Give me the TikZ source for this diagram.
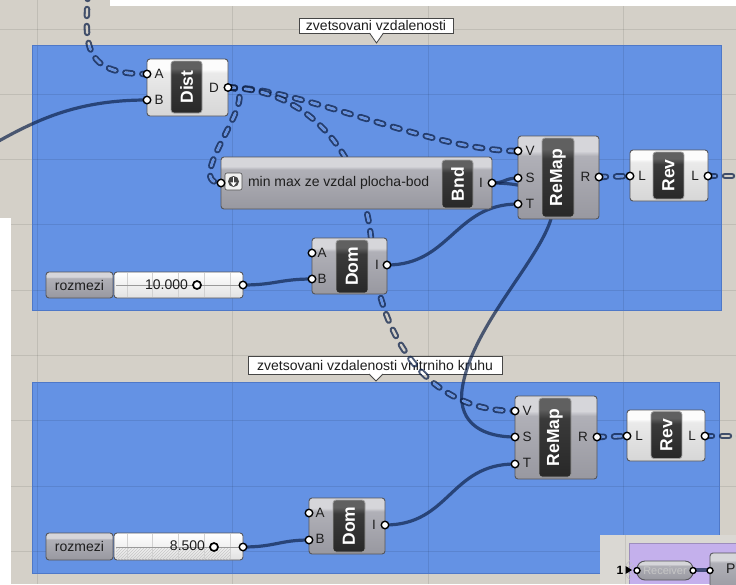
\documentclass[tikz,border=0pt]{standalone}
\usepackage{fontspec}
\setmainfont{Liberation Sans}
\usepackage{graphicx}
\usetikzlibrary{patterns}

\definecolor{canvas}{RGB}{212,208,200}
\definecolor{grpblue}{RGB}{100,146,228}
\definecolor{grpedge}{RGB}{78,120,200}
\definecolor{wirec}{RGB}{15,35,75}
\definecolor{gT}{RGB}{214,214,218}
\definecolor{gM}{RGB}{176,176,183}
\definecolor{gB}{RGB}{152,152,160}
\definecolor{lT}{RGB}{252,252,252}
\definecolor{lM}{RGB}{234,234,234}
\definecolor{lB}{RGB}{214,214,214}
\definecolor{dT}{RGB}{96,96,96}
\definecolor{dM}{RGB}{58,58,58}
\definecolor{dB}{RGB}{40,40,40}
\definecolor{tT}{RGB}{255,255,255}
\definecolor{tB}{RGB}{226,226,226}
\definecolor{compedge}{RGB}{85,85,90}
\definecolor{anndraw}{RGB}{70,70,70}
\definecolor{pastegrey}{RGB}{218,216,211}
\definecolor{grpviolet}{RGB}{196,176,236}
\definecolor{txt}{RGB}{30,30,30}

\pgfdeclareverticalshading{greycomp}{100bp}{color(0bp)=(gB); color(25bp)=(gB); color(63bp)=(gM); color(66bp)=(gT); color(75bp)=(gT); color(100bp)=(gT)}
\pgfdeclareverticalshading{lightcomp}{100bp}{color(0bp)=(lB); color(25bp)=(lB); color(63bp)=(lM); color(66bp)=(lT); color(75bp)=(lT); color(100bp)=(lT)}
\pgfdeclareverticalshading{darkcomp}{100bp}{color(0bp)=(dB); color(25bp)=(dB); color(62bp)=(dM); color(68bp)=(dT); color(75bp)=(dT); color(100bp)=(dT)}
\pgfdeclareverticalshading{trackshade}{100bp}{color(0bp)=(tB); color(25bp)=(tB); color(75bp)=(tT); color(100bp)=(tT)}

\pgfdeclarelayer{bg}
\pgfdeclarelayer{wires}
\pgfdeclarelayer{top}
\pgfsetlayers{bg,wires,main,top}

% dashed (list) wire: dark capsule outline, hollow centre
\newcommand\dwire[1]{%
  \draw[dwout] #1;
  \draw[dwin, draw=canvas] #1;
  \begin{scope}
    \clip (32,45) rectangle (721,310) (32,382) rectangle (719,573);
    \draw[dwin, draw=grpblue] #1;
  \end{scope}
  \begin{scope}
    \clip (248,356) rectangle (502,374);
    \draw[dwin, draw=white] #1;
  \end{scope}}

\begin{document}
\begin{tikzpicture}[x=1pt,y=-1pt,
  every node/.style={inner sep=0pt, outer sep=0pt},
  comp/.style={draw=compedge, line width=0.9pt, rounded corners=3pt, shade, shading=greycomp},
  lcomp/.style={comp, shading=lightcomp},
  dkbox/.style={draw=gray!75, line width=0.8pt, rounded corners=3pt, shade, shading=darkcomp,
    text=white, font=\fontsize{17.5}{17.5}\selectfont\bfseries},
  port/.style={circle, draw=black, fill=white, line width=1.4pt, minimum size=7.5pt},
  plabel/.style={font=\fontsize{13.5}{13.5}\selectfont, text=txt},
  ntext/.style={font=\fontsize{14}{14}\selectfont, text=txt},
  track/.style={draw=compedge, line width=0.9pt, rounded corners=3pt, shade, shading=trackshade},
  tickline/.style={draw=black!18, line width=0.7pt},
  knob/.style={circle, draw=black, line width=1.7pt, fill=white, minimum size=8pt},
  ann/.style={draw=anndraw, fill=white, line width=0.8pt, font=\fontsize{14}{14}\selectfont, text=txt},
  gridline/.style={draw=black, draw opacity=0.09, line width=0.9pt},
  swire/.style={draw=wirec, draw opacity=0.7, line width=3.2pt},
  dwout/.style={draw=wirec, draw opacity=0.75, line width=6.4pt, line cap=round, dash pattern=on 7pt off 10pt},
  dwin/.style={line width=2.3pt, line cap=round, dash pattern=on 7pt off 10pt}
]
\useasboundingbox (0,0) rectangle (736,584);

% ---------------- canvas, groups, grid, notes
\begin{pgfonlayer}{bg}
  \fill[canvas] (0,0) rectangle (736,584);
  \fill[grpblue] (32,45) rectangle (721,310);
  \fill[grpblue] (32,382) rectangle (719,573);
  \foreach \gy in {29,94.3,159.6,224.9,290.2,355.5,420.8,486.1,551.4}
    \draw[gridline] (0,\gy) -- (736,\gy);
  \foreach \gx in {37,232.6,428.2,623.8}
    \draw[gridline] (\gx,0) -- (\gx,584);
  \draw[grpedge, line width=0.7pt] (32,45) rectangle (721,310);
  \draw[grpedge, line width=0.7pt] (32,382) rectangle (719,573);
  \fill[white] (110,0) rectangle (736,6);
  \fill[white] (0,218) rectangle (11,584);

  \node[ann, minimum width=154pt, minimum height=15pt] (ann1) at (376,25.5) {zvetsovani vzdalenosti};
  \fill[white] (369.5,32.3) -- (376.5,43) -- (383.5,32.3) -- cycle;
  \draw[anndraw, line width=0.8pt] (369.5,33) -- (376.5,43) -- (383.5,33);

  \node[ann, minimum width=254pt, minimum height=18pt] (ann2) at (375,365) {zvetsovani vzdalenosti vnitrniho kruhu};
  \fill[white] (369,373.3) -- (376,381) -- (383,373.3) -- cycle;
  \draw[anndraw, line width=0.8pt] (369,374) -- (376,381) -- (383,374);
\end{pgfonlayer}

% ---------------- Dist
\node[lcomp, minimum width=81pt, minimum height=57pt] (dist) at (187.5,87.5) {};
\node[dkbox, minimum width=31pt, minimum height=52pt] (distK) at (186.5,87) {\rotatebox{90}{Dist}};
\node[plabel] (distAl) at (159,74) {A};
\node[plabel] (distBl) at (159,100) {B};
\node[plabel] (distDl) at (214,87.5) {D};
\node[port] (distA) at (147,74) {};
\node[port] (distB) at (147,100) {};
\node[port] (distD) at (228,87.5) {};

% ---------------- Bounds
\node[comp, minimum width=271pt, minimum height=52pt] (bnd) at (356.5,183) {};
\node[draw=gray!60!black, fill=gray!12, rounded corners=2pt, minimum size=17pt, line width=0.6pt] (bndIc) at (233.5,181.5) {};
\fill[gray!55!black] (233.5,181.5) circle (5.5pt);
\draw[white, line width=1.3pt] (233.5,177.2) -- (233.5,183);
\fill[white] (230.4,182.3) -- (233.5,186.3) -- (236.6,182.3) -- cycle;
\node[ntext, anchor=west] (bndTxt) at (248,183) {min max ze vzdal plocha-bod};
\node[dkbox, minimum width=31pt, minimum height=48pt] (bndK) at (457.5,184) {\rotatebox{90}{Bnd}};
\node[plabel] (bndIl) at (481,183) {I};
\node[port] (bndIn) at (221,183) {};
\node[port] (bndI) at (492,183) {};

% ---------------- ReMap (upper)
\node[comp, minimum width=81pt, minimum height=83pt] (rm) at (558.5,177.5) {};
\node[dkbox, minimum width=32pt, minimum height=79pt] (rmK) at (558,177.5) {\rotatebox{90}{ReMap}};
\node[plabel] (rmVl) at (530,151) {V};
\node[plabel] (rmSl) at (530,178) {S};
\node[plabel] (rmTl) at (530,204) {T};
\node[plabel] (rmRl) at (585.5,177) {R};
\node[port] (rmV) at (518,151) {};
\node[port] (rmS) at (518,178) {};
\node[port] (rmT) at (518,204) {};
\node[port] (rmR) at (599,177) {};

% ---------------- Reverse (upper)
\node[lcomp, minimum width=78pt, minimum height=51pt] (rv) at (669,175.5) {};
\node[dkbox, minimum width=31pt, minimum height=47pt] (rvK) at (668.5,175.5) {\rotatebox{90}{Rev}};
\node[plabel] (rvLl) at (642,176) {L};
\node[plabel] (rvLr) at (695,176) {L};
\node[port] (rvIn) at (630,176) {};
\node[port] (rvOut) at (708,176) {};

% ---------------- Domain (upper)
\node[comp, minimum width=75pt, minimum height=56pt] (dm) at (349.5,266) {};
\node[dkbox, minimum width=32pt, minimum height=53pt] (dmK) at (352,266.5) {\rotatebox{90}{Dom}};
\node[plabel] (dmAl) at (322,253) {A};
\node[plabel] (dmBl) at (322,279) {B};
\node[plabel] (dmIl) at (377,265) {I};
\node[port] (dmA) at (312,253) {};
\node[port] (dmB) at (312,279) {};
\node[port] (dmI) at (387,265) {};

% ---------------- slider (upper)
\node[comp, minimum width=67pt, minimum height=26pt, font=\fontsize{14}{14}\selectfont, text=txt] (sl1L) at (79.5,285) {rozmezi};
\node[track, minimum width=129pt, minimum height=26pt] (sl1T) at (178.5,285) {};
\foreach \tx in {127,152,178,204,230} \draw[tickline] (\tx,273) -- (\tx,297);
\draw[draw=black!40, line width=0.8pt] (116,285) -- (241,285);
\node[ntext, anchor=east] (sl1V) at (188,284.5) {10.000};
\node[knob] (sl1K) at (197,285) {};
\node[port] (sl1Out) at (243,285) {};

% ---------------- ReMap (lower)
\node[comp, minimum width=82pt, minimum height=83pt] (rm2) at (556,437.5) {};
\node[dkbox, minimum width=32pt, minimum height=79pt] (rm2K) at (555,437.5) {\rotatebox{90}{ReMap}};
\node[plabel] (rm2Vl) at (527,411) {V};
\node[plabel] (rm2Sl) at (527,437) {S};
\node[plabel] (rm2Tl) at (527,463) {T};
\node[plabel] (rm2Rl) at (583,437) {R};
\node[port] (rm2V) at (515,411) {};
\node[port] (rm2S) at (515,437) {};
\node[port] (rm2T) at (515,464) {};
\node[port] (rm2R) at (597,437) {};

% ---------------- Reverse (lower)
\node[lcomp, minimum width=78pt, minimum height=51pt] (rv2) at (666,435.5) {};
\node[dkbox, minimum width=31pt, minimum height=47pt] (rv2K) at (666.5,435) {\rotatebox{90}{Rev}};
\node[plabel] (rv2Ll) at (639,436) {L};
\node[plabel] (rv2Lr) at (692,436) {L};
\node[port] (rv2In) at (627,436) {};
\node[port] (rv2Out) at (705,436) {};

% ---------------- Domain (lower)
\node[comp, minimum width=76pt, minimum height=56pt] (dm2) at (347,526) {};
\node[dkbox, minimum width=32pt, minimum height=52pt] (dm2K) at (349,526) {\rotatebox{90}{Dom}};
\node[plabel] (dm2Al) at (320,513) {A};
\node[plabel] (dm2Bl) at (320,539) {B};
\node[plabel] (dm2Il) at (374,525) {I};
\node[port] (dm2A) at (309,513) {};
\node[port] (dm2B) at (309,540) {};
\node[port] (dm2I) at (385,525) {};

% ---------------- slider (lower)
\node[comp, minimum width=67pt, minimum height=27pt, font=\fontsize{14}{14}\selectfont, text=txt] (sl2L) at (79.5,546.5) {rozmezi};
\node[track, minimum width=129pt, minimum height=27pt] (sl2T) at (178.5,546.5) {};
\fill[pattern=north east lines, pattern color=black!22] (116,547) rectangle (230,559);
\foreach \tx in {127,152,178,204,230} \draw[tickline] (\tx,534) -- (\tx,559);
\draw[draw=black!40, line width=0.8pt] (116,547) -- (241,547);
\node[ntext, anchor=east] (sl2V) at (205,546) {8.500};
\node[knob] (sl2K) at (214,547) {};
\node[port] (sl2Out) at (243,547) {};

% free wire ends beyond the canvas edge
\coordinate (topEnd) at (88,-8);
\coordinate (leftEnd) at (-3,142);
\coordinate (rightEnd1) at (742,176);
\coordinate (rightEnd2) at (742,436);

% ---------------- wires
\begin{pgfonlayer}{wires}
  \draw[swire] (distB.center) .. controls (80,100) and (40,118) .. (leftEnd);
  \draw[swire] (bndI.center) .. controls (505,183) and (505,178) .. (rmS.center);
  \draw[swire] (bndI.center) .. controls (540,183) and (558,200) .. (550,222)
     .. controls (535,265) and (470,330) .. (462,390)
     .. controls (458,425) and (485,437) .. (rm2S.center);
  \draw[swire] (dmI.center) .. controls (450,265) and (455,204) .. (rmT.center);
  \draw[swire] (sl1Out.center) .. controls (275,285) and (280,279) .. (dmB.center);
  \draw[swire] (sl2Out.center) .. controls (275,547) and (280,540) .. (dm2B.center);
  \draw[swire] (dm2I.center) .. controls (450,525) and (450,464) .. (rm2T.center);

  \dwire{(topEnd) .. controls (85,45) and (82,74) .. (distA.center)}
  \dwire{(distD.center) .. controls (270,87) and (180,183) .. (bndIn.center)}
  \dwire{(distD.center) .. controls (300,87) and (430,151) .. (rmV.center)}
  \dwire{(distD.center) .. controls (320,90) and (368,170) .. (372,250) .. controls (380,340) and (430,411) .. (rm2V.center)}
  \dwire{(rmR.center) -- (rvIn.center)}
  \dwire{(rvOut.center) -- (rightEnd1)}
  \dwire{(rm2R.center) -- (rv2In.center)}
  \dwire{(rv2Out.center) -- (rightEnd2)}
\end{pgfonlayer}

% ---------------- pasted corner with the receiver
\begin{pgfonlayer}{top}
  \fill[pastegrey] (600,535) rectangle (736,584);
  \draw[gridline] (625,535) -- (625,584);
  \fill[grpviolet] (629,543) rectangle (736,584);
  \draw[draw=grpviolet!80!black, line width=0.6pt] (629,543) -- (736,543) (629,543) -- (629,584);
  \foreach \rr in {6,9,12} \draw[draw=black!25, line width=0.5pt] (637,570) ++(125:\rr) arc (125:235:\rr);
  \node[font=\fontsize{12}{12}\selectfont\bfseries] (recvNum) at (620,570.5) {1};
  \fill[black] (625.5,566) -- (632,570) -- (625.5,574) -- cycle;
  \node[comp, rounded corners=8pt, minimum width=56pt, minimum height=19pt,
        font=\fontsize{11}{11}\selectfont, text=gray!45] (recv) at (665,570.5) {Receiver};
  \node[comp, minimum width=40pt, minimum height=40pt] (pcomp) at (730,573) {};
  \node[ntext, anchor=east] (pcompl) at (735.5,569) {P};
  \draw[swire] (693,570) -- (710,570);
  \node[port, minimum size=6pt] (recvIn) at (637,570.5) {};
  \node[port, minimum size=6pt] (recvOut) at (693,570.5) {};
  \node[port, minimum size=6pt] (pIn) at (710,570.5) {};
\end{pgfonlayer}
\end{tikzpicture}
\end{document}
